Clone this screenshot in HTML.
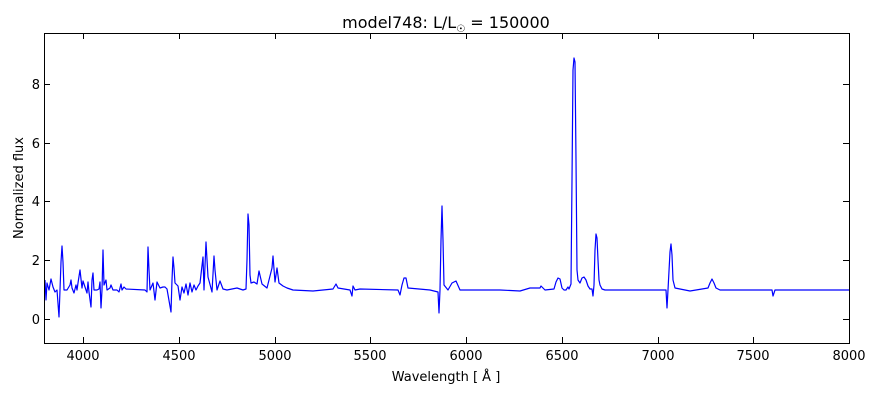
<!DOCTYPE html><html><head><style>body{margin:0;background:#fff}svg text{font-family:"DejaVu Sans","Liberation Sans",sans-serif;fill:#000}</style></head><body>
<svg width="880" height="400" xmlns="http://www.w3.org/2000/svg">
<rect width="880" height="400" fill="#fff"/>
<text x="446" y="28" font-size="16" text-anchor="middle">model748: L/L<tspan font-size="10" dy="4">☉</tspan><tspan dy="-4"> = 150000</tspan></text>
<polyline fill="none" stroke="#0000ff" stroke-width="1.2" stroke-linejoin="round" points="45,280 46,300 47,283 49,290 51,279 53,287 55,292 57,290 59,317 60,290 61,262 62,246 63,262 64,290 67,290 70,285 71,280 72,288 74,293 76,285 77,290 78,283 80,270 82,288 83,281 85,287 87,293 88,282 89,292 91,307 92,280 93,273 94,290 97,290 99,289 100,282 101,308 102,290 103,250 104,285 106,280 107,290 110,288 111,285 113,290 117,290 119,292 121,284 122,290 124,287 126,289 145,290 147,292 148,247 149,270 150,290 153,283 155,300 157,282 160,288 163,287 165,287 167,289 171,312 172,280 173,257 174,268 175,283 178,286 180,300 182,287 184,293 186,284 188,295 190,283 192,292 194,285 196,290 198,286 200,283 203,257 204,290 206,242 208,277 212,292 214,256 215,270 217,290 220,281 223,289 227,290 237,288 243,290 246,289 247,260 248,214 249,225 250,275 251,283 254,282 257,284 259,271 262,284 267,288 272,268 273,256 275,282 277,268 279,283 283,286 287,288 293,290 313,291 333,289 336,284 338,288 350,290 352,296 353,286 355,290 360,289 398,290 400,295 402,285 404,278 406,278 408,288 430,290 438,292 439,313 440,290 441,240 442,206 443,240 444,285 448,290 452,283 456,281 460,290 500,290 520,291 530,288 540,288 541,286 545,290 554,289 556,282 558,278 560,279 562,288 564,290 566,290 568,287 569,289 571,284 572,180 573,70 574,58 575,62 576,160 577,270 578,280 580,283 582,278 584,277 586,280 588,286 590,289 592,289 593,296 594,285 595,250 596,234 597,238 598,260 599,280 600,285 602,289 605,290 666,290 667,308 668,290 670,252 671,244 672,255 673,280 675,288 690,291 708,288 710,283 712,279 714,283 716,288 720,290 772,290 773,296 775,290 800,290 849,290"/>
<rect x="44.5" y="33.5" width="805" height="310" fill="none" stroke="#000" stroke-width="1"/>
<g stroke="#000" stroke-width="1">
<path d="M83.5,343v-6M83.5,33v6M275.5,343v-6M275.5,33v6M466.5,343v-6M466.5,33v6M658.5,343v-6M658.5,33v6M849.5,343v-6M849.5,33v6M179.5,343v-6M179.5,33v6M370.5,343v-6M370.5,33v6M562.5,343v-6M562.5,33v6M753.5,343v-6M753.5,33v6"/>
<path d="M44,319.5h6M849,319.5h-6M44,260.5h6M849,260.5h-6M44,201.5h6M849,201.5h-6M44,143.5h6M849,143.5h-6M44,84.5h6M849,84.5h-6"/>
</g>
<g font-size="13" text-anchor="middle">
<text x="83" y="360">4000</text><text x="179" y="360">4500</text><text x="275" y="360">5000</text><text x="370" y="360">5500</text><text x="466" y="360">6000</text><text x="562" y="360">6500</text><text x="658" y="360">7000</text><text x="753" y="360">7500</text><text x="849" y="360">8000</text>
</g>
<g font-size="13" text-anchor="end">
<text x="40" y="324">0</text><text x="40" y="265">2</text><text x="40" y="206">4</text><text x="40" y="148">6</text><text x="40" y="89">8</text>
</g>
<text x="446" y="381" font-size="13" text-anchor="middle">Wavelength [ Å ]</text>
<text transform="translate(23,188) rotate(-90)" font-size="13" text-anchor="middle">Normalized flux</text>
</svg></body></html>
